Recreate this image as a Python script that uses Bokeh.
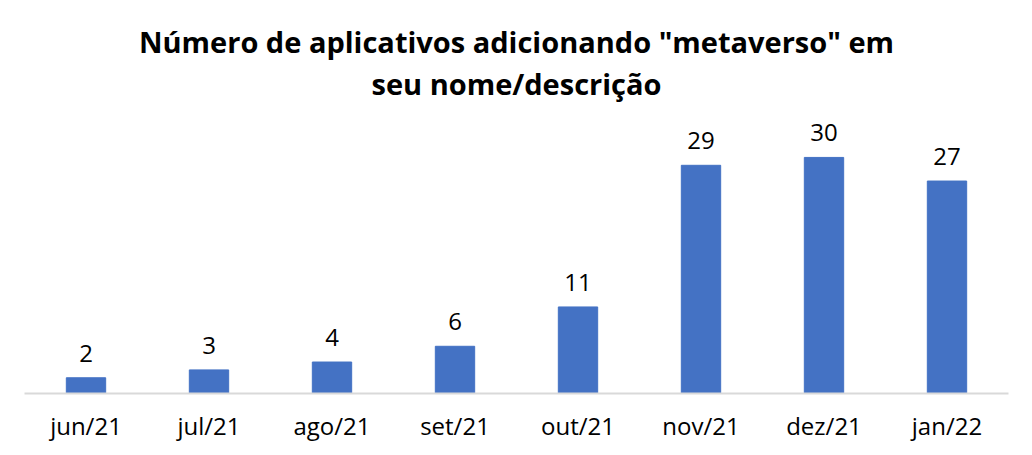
from bokeh.plotting import figure
from bokeh.models import ColumnDataSource, Title, LabelSet
from bokeh.core.properties import value
from bokeh.embed import file_html
from bokeh.resources import INLINE

months = ["jun/21", "jul/21", "ago/21", "set/21", "out/21", "nov/21", "dez/21", "jan/22"]
counts = [2, 3, 4, 6, 11, 29, 30, 27]
title_line1 = 'Número de aplicativos adicionando "metaverso" em'
title_line2 = "seu nome/descrição"

src = ColumnDataSource(dict(x=months, y=counts, lbl=[str(c) for c in counts]))

p = figure(x_range=months, y_range=(0, 36.6), frame_width=984, frame_height=288,
           output_backend="svg", toolbar_location=None,
           min_border_left=24, min_border_right=8, min_border_bottom=44, min_border_top=105)

FONT = "Open Sans"
p.add_layout(Title(text=title_line2, align="center", text_font=FONT, text_font_size="29px",
                   text_font_style="bold", text_color="#000000", standoff=5), "above")
p.add_layout(Title(text=title_line1, align="center", text_font=FONT, text_font_size="29px",
                   text_font_style="bold", text_color="#000000", standoff=-2), "above")

p.vbar(x="x", top="y", width=0.32, source=src, color="#4472C4")
p.add_layout(LabelSet(x="x", y="y", text="lbl", source=src, text_align="center",
                      text_baseline="bottom", y_offset=16, text_font=value(FONT),
                      text_font_size=value("24px"), text_color="#000000"))

p.yaxis.visible = False
p.xgrid.grid_line_color = None
p.ygrid.grid_line_color = None
p.outline_line_color = None
p.xaxis.axis_line_color = "#D9D9D9"
p.xaxis.axis_line_width = 2
p.xaxis.major_tick_line_color = None
p.xaxis.minor_tick_line_color = None
p.xaxis.major_label_text_font = FONT
p.xaxis.major_label_text_font_size = "24px"
p.xaxis.major_label_text_color = "#000000"
p.xaxis.major_label_standoff = 9
p.x_range.range_padding = 0

open("out.html", "w").write(file_html(p, INLINE))
